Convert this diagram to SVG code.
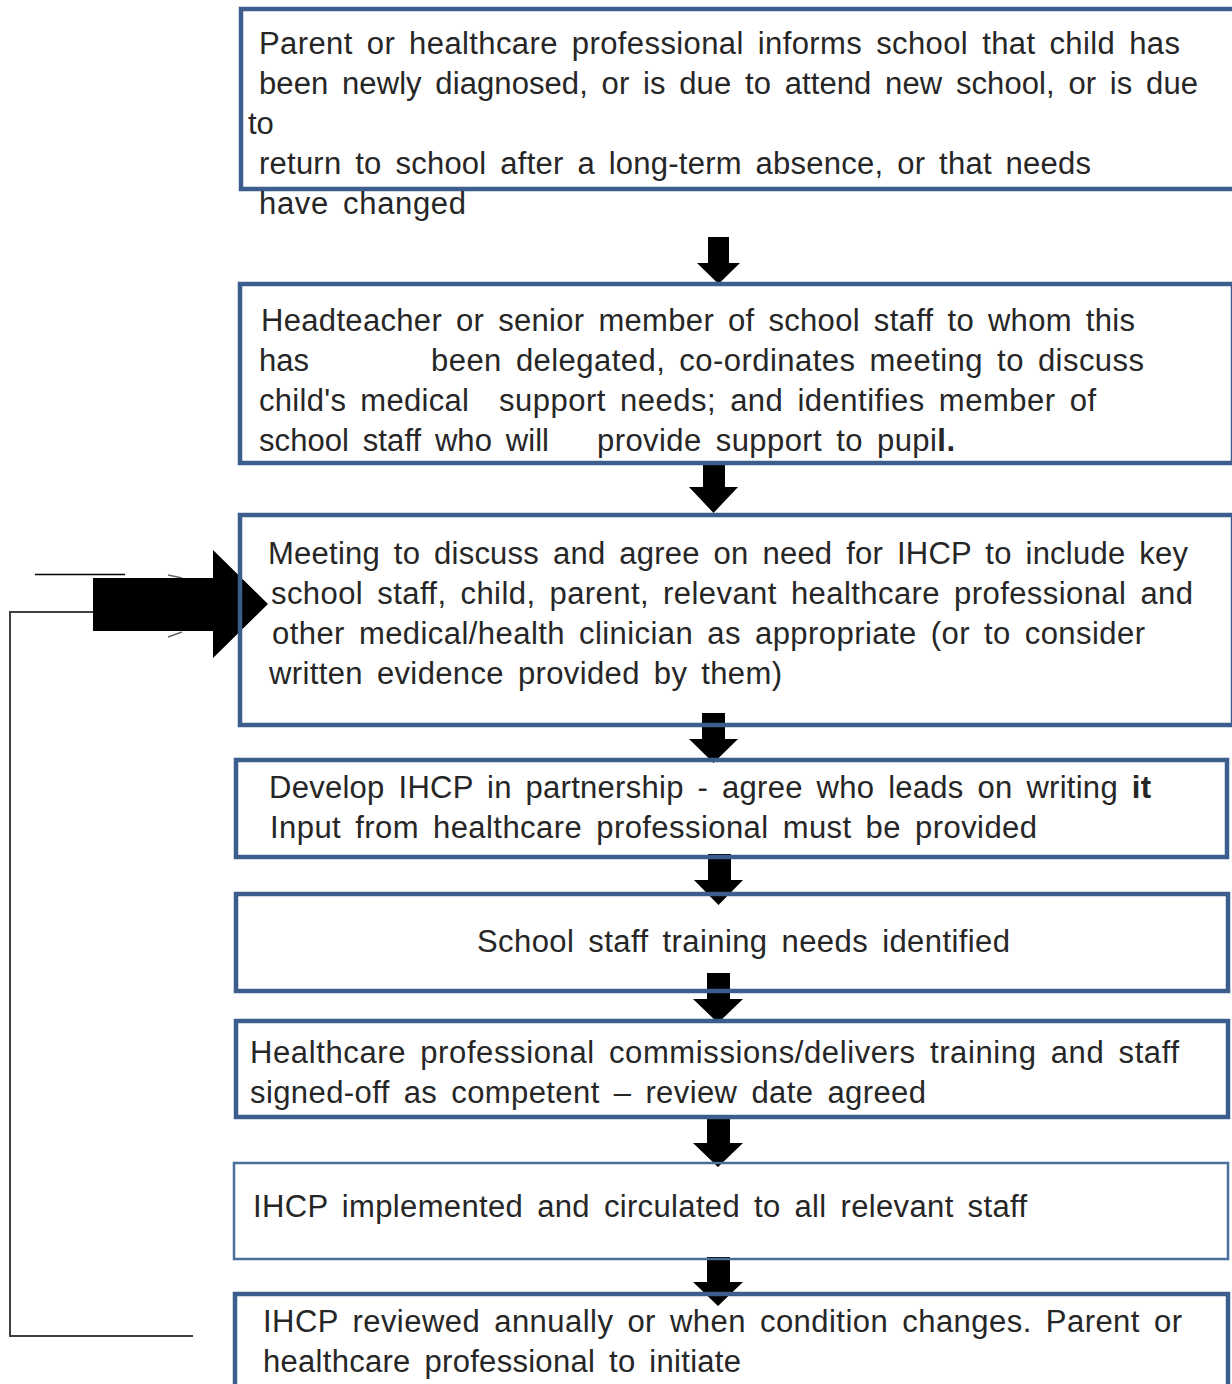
<svg xmlns="http://www.w3.org/2000/svg" width="1232" height="1384" viewBox="0 0 1232 1384">
<style>
.box{fill:none;stroke:#3b5e8c;stroke-width:4.5}
.thin{stroke-width:2.5;stroke:#4a6f9c}
.t{font-family:"Liberation Sans",Arial,sans-serif;font-size:31px;fill:#262626;word-spacing:5px}
.arr{fill:#000}
.ln{fill:none;stroke:#404040;stroke-width:2}
</style>
<rect width="1232" height="1384" fill="#fff"/>
<g id="connectors">
  <polygon class="arr" points="708,237 729,237 729,263 740,263 718.5,284 697,263 708,263"/>
  <polygon class="arr" points="703,463 725,463 725,487 738,487 713.5,513 689,487 703,487"/>
  <polygon class="arr" points="702,713 725,713 725,739 738,739 713.5,763 689,739 702,739"/>
  <polygon class="arr" points="708,854 731,854 731,880 743,880 718.5,905 694,880 708,880"/>
  <polygon class="arr" points="707,973 730,973 730,999 743,999 718,1023 693,999 707,999"/>
  <polygon class="arr" points="707,1117 730,1117 730,1143 743,1143 718,1167 693,1143 707,1143"/>
  <polygon class="arr" points="707,1257 730,1257 730,1282 743,1282 718,1306 693,1282 707,1282"/>
  <polyline class="ln" points="193,1336 10,1336 10,612 93,612"/>
  <line x1="35" y1="574.5" x2="125" y2="574.5" stroke="#000" stroke-width="1.5"/>
  <line x1="168" y1="575" x2="182" y2="578" stroke="#666" stroke-width="1.5"/>
  <line x1="168" y1="637" x2="182" y2="632" stroke="#666" stroke-width="1.5"/>
  <polygon class="arr" points="93,578 213,578 213,550 268,604 213,658 213,631 93,631"/>
</g>
<g id="node1">
  <rect class="box" x="241" y="9" width="1010" height="180"/>
  <text class="t" x="259" y="54" textLength="921" lengthAdjust="spacing">Parent or healthcare professional informs school that child has</text>
  <text class="t" x="259" y="94" textLength="939" lengthAdjust="spacing">been newly diagnosed, or is due to attend new school, or is due</text>
  <text class="t" x="248" y="134">to</text>
  <text class="t" x="259" y="174" textLength="832" lengthAdjust="spacing">return to school after a long-term absence, or that needs</text>
  <text class="t" x="259" y="214" textLength="207" lengthAdjust="spacing">have changed</text>
</g>
<g id="node2">
  <rect class="box" x="240" y="284" width="993" height="179"/>
  <text class="t" x="261" y="331" textLength="874" lengthAdjust="spacing">Headteacher or senior member of school staff to whom this</text>
  <text class="t" x="259" y="371">has</text>
  <text class="t" x="431" y="371" textLength="713" lengthAdjust="spacing">been delegated, co-ordinates meeting to discuss</text>
  <text class="t" x="259" y="411" textLength="210" lengthAdjust="spacing">child's medical</text>
  <text class="t" x="499" y="411" textLength="597" lengthAdjust="spacing">support needs; and identifies member of</text>
  <text class="t" x="259" y="451" textLength="290" lengthAdjust="spacing">school staff who will</text>
  <text class="t" x="597" y="451" textLength="358" lengthAdjust="spacing">provide support to pupi<tspan font-weight="bold">l.</tspan></text>
</g>
<g id="node3">
  <rect class="box" x="240" y="515" width="993" height="210"/>
  <text class="t" x="268" y="564" textLength="920" lengthAdjust="spacing">Meeting to discuss and agree on need for IHCP to include key</text>
  <text class="t" x="271" y="604" textLength="922" lengthAdjust="spacing">school staff, child, parent, relevant healthcare professional and</text>
  <text class="t" x="272" y="644" textLength="873" lengthAdjust="spacing">other medical/health clinician as appropriate (or to consider</text>
  <text class="t" x="269" y="684" textLength="513" lengthAdjust="spacing">written evidence provided by them)</text>
</g>
<g id="node4">
  <rect class="box" x="236" y="760" width="991" height="97"/>
  <text class="t" x="269" y="798" textLength="882" lengthAdjust="spacing">Develop IHCP in partnership - agree who leads on writing <tspan font-weight="bold">it</tspan></text>
  <text class="t" x="270" y="838" textLength="767" lengthAdjust="spacing">Input from healthcare professional must be provided</text>
</g>
<g id="node5">
  <rect class="box" x="236" y="894" width="992" height="97"/>
  <text class="t" x="477" y="952" textLength="533" lengthAdjust="spacing">School staff training needs identified</text>
</g>
<g id="node6">
  <rect class="box" x="236" y="1021" width="992" height="96"/>
  <text class="t" x="250" y="1063" textLength="929" lengthAdjust="spacing">Healthcare professional commissions/delivers training and staff</text>
  <text class="t" x="250" y="1103" textLength="676" lengthAdjust="spacing">signed-off as competent – review date agreed</text>
</g>
<g id="node7">
  <rect class="box thin" x="234" y="1163" width="994" height="96"/>
  <text class="t" x="253" y="1217" textLength="774" lengthAdjust="spacing">IHCP implemented and circulated to all relevant staff</text>
</g>
<g id="node8">
  <rect class="box" x="235" y="1294" width="993" height="120"/>
  <text class="t" x="263" y="1332" textLength="919" lengthAdjust="spacing">IHCP reviewed annually or when condition changes. Parent or</text>
  <text class="t" x="263" y="1372" textLength="478" lengthAdjust="spacing">healthcare professional to initiate</text>
</g>
</svg>
